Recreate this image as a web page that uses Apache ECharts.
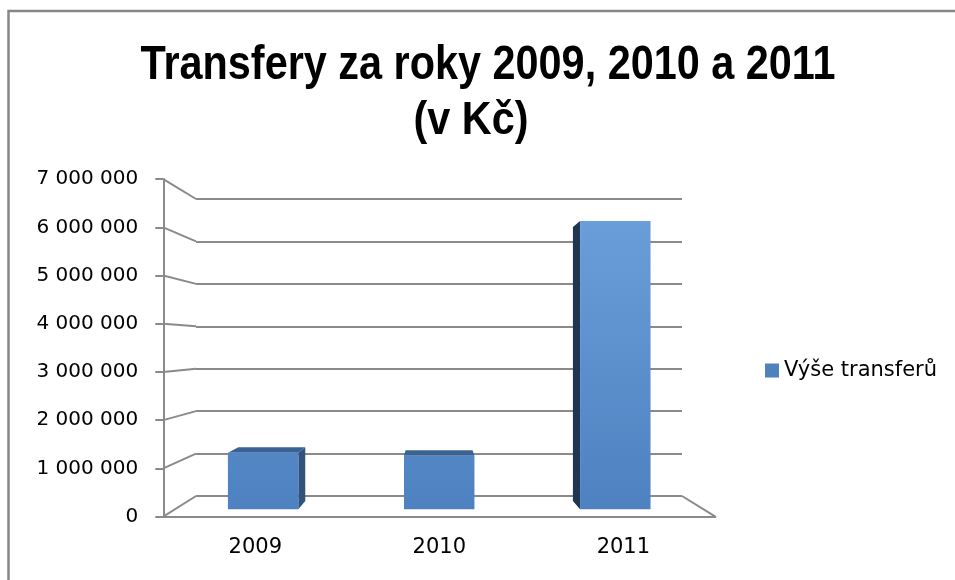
<!DOCTYPE html>
<html>
<head>
<meta charset="utf-8">
<title>Transfery za roky 2009, 2010 a 2011</title>
<script src="https://cdn.jsdelivr.net/npm/echarts@6/dist/echarts.min.js"></script>
<style>
  html, body { margin: 0; padding: 0; background: #fff; }
  #main { width: 955px; height: 580px; }
</style>
</head>
<body>
<div id="main"></div>
<script>
// data
var roky = ['2009', '2010', '2011'];
var transfery = [1225000, 1155000, 6250000];
var osaHodnoty = [0, 1000000, 2000000, 3000000, 4000000, 5000000, 6000000, 7000000];
var osaMax = 7000000;
var osaKrok = 1000000;

// 3D pohled: zadni stena + ubeznik, predni rovina je zvetsena o S
var zadni = { left: 196, top: 199, width: 486, height: 297 };
var V = [436.5, 345];
var S = 1.136;
function proj(x, y, f) {
    var s = 1 + (S - 1) * f;
    return [V[0] + s * (x - V[0]), V[1] + s * (y - V[1])];
}
var pTL = proj(zadni.left, zadni.top, 1);
var pBR = proj(zadni.left + zadni.width, zadni.top + zadni.height, 1);
var predni = { left: pTL[0], top: pTL[1], width: pBR[0] - pTL[0], height: pBR[1] - pTL[1] };

var seda = '#8a8a8a';
var pismo = 'DejaVu Sans';

function mezery(v) {
    return String(v).replace(/\B(?=(\d{3})+(?!\d))/g, ' ');
}

var myChart = echarts.init(document.getElementById('main'));
var option = {
    backgroundColor: '#fff',
    animation: false,
    graphic: [
        {
            type: 'rect',
            shape: { x: 8.5, y: 11, width: 1000, height: 700 },
            style: { fill: 'none', stroke: '#868686', lineWidth: 2.5 }
        },
        {
            // nadpis - zuzeny jako Calibri
            type: 'text', x: 488, y: 65, scaleX: 0.845,
            style: {
                text: 'Transfery za roky 2009, 2010 a 2011',
                fontFamily: 'Liberation Sans', fontWeight: 'bold', fontSize: 49,
                align: 'center', verticalAlign: 'middle', fill: '#000'
            }
        },
        {
            type: 'text', x: 471, y: 121, scaleX: 0.88,
            style: {
                text: '(v Kč)',
                fontFamily: 'Liberation Sans', fontWeight: 'bold', fontSize: 47,
                align: 'center', verticalAlign: 'middle', fill: '#000'
            }
        }
    ],
    legend: {
        data: ['Výše transferů'],
        icon: 'rect',
        itemWidth: 14,
        itemHeight: 14,
        left: 760,
        top: 355,
        textStyle: { fontFamily: pismo, fontSize: 21, color: '#000' }
    },
    grid: [
        { left: zadni.left, top: zadni.top, width: zadni.width, height: zadni.height },
        { left: predni.left, top: predni.top, width: predni.width, height: predni.height }
    ],
    xAxis: [
        { gridIndex: 0, type: 'category', data: roky, show: false },
        {
            gridIndex: 1, type: 'category', data: roky,
            axisLine: { lineStyle: { color: seda, width: 2 } },
            axisTick: { length: 10, lineStyle: { color: seda, width: 2 } },
            axisLabel: { margin: 21, fontFamily: pismo, fontSize: 21, color: '#000' }
        }
    ],
    yAxis: [
        {
            gridIndex: 0, type: 'value', min: 0, max: osaMax, interval: osaKrok,
            axisLine: { show: false }, axisTick: { show: false }, axisLabel: { show: false },
            splitLine: { lineStyle: { color: seda, width: 2 } }
        },
        {
            gridIndex: 1, type: 'value', min: 0, max: osaMax, interval: osaKrok,
            axisLine: { show: true, lineStyle: { color: seda, width: 2 } },
            axisTick: { show: true, length: 8, lineStyle: { color: seda, width: 2 } },
            axisLabel: { margin: 25, fontFamily: pismo, fontSize: 20, color: '#000', formatter: mezery },
            splitLine: { show: false }
        }
    ],
    series: [
        {
            // spojnice od predni osy k zadni stene + podlaha
            name: 'ramec',
            type: 'custom',
            xAxisIndex: 0, yAxisIndex: 0,
            silent: true,
            data: osaHodnoty.map(function (v) { return [0, v]; }),
            renderItem: function (params, api) {
                var cs = params.coordSys;
                var y = api.coord([0, api.value(1)])[1];
                var st = { stroke: seda, lineWidth: 2 };
                var a = proj(cs.x, y, 1);
                var kids = [{ type: 'line', shape: { x1: a[0], y1: a[1], x2: cs.x, y2: y }, style: st }];
                if (api.value(1) === 0) {
                    var b = proj(cs.x + cs.width, y, 1);
                    kids.push({ type: 'line', shape: { x1: cs.x + cs.width, y1: y, x2: b[0], y2: b[1] }, style: st });
                }
                return { type: 'group', children: kids };
            }
        },
        {
            name: 'Výše transferů',
            type: 'custom',
            xAxisIndex: 0, yAxisIndex: 0,
            itemStyle: { color: '#4f81bd' },
            data: transfery.map(function (v, i) { return [i, v]; }),
            renderItem: function (params, api) {
                var i = api.value(0), v = api.value(1);
                var vrch = api.coord([i, v]), pata = api.coord([i, 0]);
                var nahore = api.coord([i, osaMax * 0.9]);
                var w = api.size([1, 0])[0] * 0.4;
                var xl = vrch[0] - w / 2, xr = vrch[0] + w / 2, yt = vrch[1], yb = pata[1];
                var F0 = 0.24, F1 = 0.64;
                var kids = [];
                if (xr < V[0]) {
                    kids.push({ type: 'polygon', shape: { points: [proj(xr, yt, F1), proj(xr, yt, F0), proj(xr, yb, F0), proj(xr, yb, F1)] },
                        style: { fill: '#31527b' } });
                }
                if (xl > V[0]) {
                    kids.push({ type: 'polygon', shape: { points: [proj(xl, yt, F1), proj(xl, yt, F0), proj(xl, yb, F0), proj(xl, yb, F1)] },
                        style: { fill: '#1f3653' } });
                }
                if (yt > V[1]) {
                    kids.push({ type: 'polygon', shape: { points: [proj(xl, yt, F1), proj(xr, yt, F1), proj(xr, yt, F0), proj(xl, yt, F0)] },
                        style: { fill: '#3a6394' } });
                }
                var g0 = proj(xl, nahore[1], F1)[1], g1 = proj(xl, yb, F1)[1];
                kids.push({
                    type: 'polygon',
                    shape: { points: [proj(xl, yt, F1), proj(xr, yt, F1), proj(xr, yb, F1), proj(xl, yb, F1)] },
                    style: {
                        fill: new echarts.graphic.LinearGradient(0, g0, 0, g1, [
                            { offset: 0, color: '#6a9edb' },
                            { offset: 1, color: '#4e81bf' }
                        ], true)
                    }
                });
                return { type: 'group', children: kids };
            }
        }
    ]
};
myChart.setOption(option);
</script>
</body>
</html>
